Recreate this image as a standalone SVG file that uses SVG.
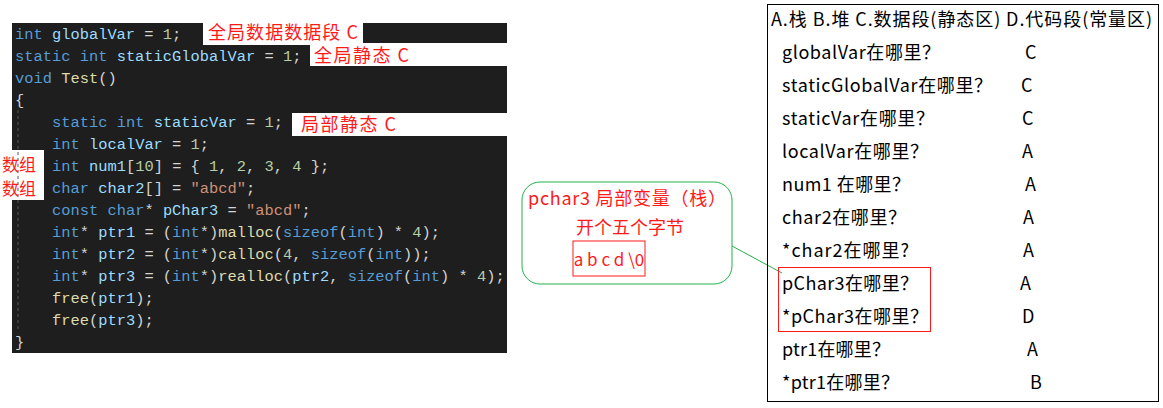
<svg xmlns="http://www.w3.org/2000/svg" width="1163" height="408" viewBox="0 0 1163 408">
<style>
.code{font-family:"Liberation Mono",monospace;font-size:15.4px;fill:#d4d4d4;white-space:pre}
.k{fill:#569cd6}.v{fill:#9cdcfe}.n{fill:#b5cea8}.s{fill:#ce9178}.f{fill:#dcdcaa}
.red{font-family:"Noto Sans CJK SC",sans-serif;font-size:18px;fill:#ff1a1a}
.t{font-family:"Noto Sans CJK SC",sans-serif;font-size:18px;fill:#000}
</style>
<rect width="1163" height="408" fill="#fff"/>
<g id="code">
<rect x="12" y="23" width="495" height="330" fill="#1e1e1e"/>
<rect x="203" y="21" width="160" height="24" fill="#fff"/>
<rect x="310" y="43" width="200" height="23" fill="#fff"/>
<rect x="292" y="113" width="216" height="23" fill="#fff"/>
<rect x="0" y="150" width="44" height="50" fill="#fff"/>
<line x1="18" y1="110" x2="18" y2="330" stroke="#555" stroke-dasharray="3,3"/>
<text class="code" x="15" y="39"><tspan class="k">int</tspan> <tspan class="v">globalVar</tspan> = <tspan class="n">1</tspan>;</text>
<text class="code" x="15" y="61"><tspan class="k">static</tspan> <tspan class="k">int</tspan> <tspan class="v">staticGlobalVar</tspan> = <tspan class="n">1</tspan>;</text>
<text class="code" x="15" y="83"><tspan class="k">void</tspan> <tspan class="f">Test</tspan>()</text>
<text class="code" x="15" y="105">{</text>
<text class="code" x="52" y="127"><tspan class="k">static</tspan> <tspan class="k">int</tspan> <tspan class="v">staticVar</tspan> = <tspan class="n">1</tspan>;</text>
<text class="code" x="52" y="149"><tspan class="k">int</tspan> <tspan class="v">localVar</tspan> = <tspan class="n">1</tspan>;</text>
<text class="code" x="52" y="171"><tspan class="k">int</tspan> <tspan class="v">num1</tspan>[<tspan class="n">10</tspan>] = { <tspan class="n">1</tspan>, <tspan class="n">2</tspan>, <tspan class="n">3</tspan>, <tspan class="n">4</tspan> };</text>
<text class="code" x="52" y="193"><tspan class="k">char</tspan> <tspan class="v">char2</tspan>[] = <tspan class="s">"abcd"</tspan>;</text>
<text class="code" x="52" y="215"><tspan class="k">const</tspan> <tspan class="k">char</tspan>* <tspan class="v">pChar3</tspan> = <tspan class="s">"abcd"</tspan>;</text>
<text class="code" x="52" y="237"><tspan class="k">int</tspan>* <tspan class="v">ptr1</tspan> = (<tspan class="k">int</tspan>*)<tspan class="f">malloc</tspan>(<tspan class="k">sizeof</tspan>(<tspan class="k">int</tspan>) * <tspan class="n">4</tspan>);</text>
<text class="code" x="52" y="259"><tspan class="k">int</tspan>* <tspan class="v">ptr2</tspan> = (<tspan class="k">int</tspan>*)<tspan class="f">calloc</tspan>(<tspan class="n">4</tspan>, <tspan class="k">sizeof</tspan>(<tspan class="k">int</tspan>));</text>
<text class="code" x="52" y="281"><tspan class="k">int</tspan>* <tspan class="v">ptr3</tspan> = (<tspan class="k">int</tspan>*)<tspan class="f">realloc</tspan>(<tspan class="v">ptr2</tspan>, <tspan class="k">sizeof</tspan>(<tspan class="k">int</tspan>) * <tspan class="n">4</tspan>);</text>
<text class="code" x="52" y="303"><tspan class="f">free</tspan>(<tspan class="v">ptr1</tspan>);</text>
<text class="code" x="52" y="325"><tspan class="f">free</tspan>(<tspan class="v">ptr3</tspan>);</text>
<text class="code" x="15" y="347">}</text>
</g>
<g id="labels">
<text class="red" x="208" y="39" textLength="150">全局数据数据段 C</text>
<text class="red" x="314" y="62" textLength="95">全局静态 C</text>
<text class="red" x="301" y="131" textLength="95">局部静态 C</text>
<text class="red" x="2" y="171" style="font-size:17px">数组</text>
<text class="red" x="2" y="195" style="font-size:17px">数组</text>
</g>
<g id="connectors">
<line x1="732" y1="246" x2="782" y2="273" stroke="#22b14c" stroke-width="1"/>
</g>
<g id="callout">
<rect x="522" y="182" width="210" height="102" rx="18" fill="#fff" stroke="#22b14c"/>
<text class="red" x="627" y="205" text-anchor="middle" textLength="198">pchar3 局部变量（栈）</text>
<text class="red" x="630" y="234" text-anchor="middle">开个五个字节</text>
<rect x="573" y="241" width="72" height="35" fill="none" stroke="#ff1a1a"/>
<text class="red" x="609" y="266" text-anchor="middle" style="white-space:pre;font-size:17px">a b c d \0</text>
</g>
<g id="table">
<rect x="767.5" y="4.5" width="391" height="397" fill="none" stroke="#000"/>
<rect x="778.5" y="267.5" width="152" height="64" fill="none" stroke="#ff1a1a"/>
<text class="t" x="771" y="26" textLength="381">A.栈 B.堆 C.数据段(静态区) D.代码段(常量区)</text>
<text class="t" x="782" y="59" textLength="158">globalVar在哪里？</text><text class="t" x="1025" y="59">C</text>
<text class="t" x="782" y="92" textLength="210">staticGlobalVar在哪里？</text><text class="t" x="1021" y="92">C</text>
<text class="t" x="782" y="125" textLength="152">staticVar在哪里？</text><text class="t" x="1022" y="125">C</text>
<text class="t" x="782" y="158" textLength="146">localVar在哪里？</text><text class="t" x="1022" y="158">A</text>
<text class="t" x="782" y="191" textLength="128">num1 在哪里？</text><text class="t" x="1025" y="191">A</text>
<text class="t" x="782" y="224" textLength="124">char2在哪里？</text><text class="t" x="1023" y="224">A</text>
<text class="t" x="782" y="257" textLength="127">*char2在哪里?</text><text class="t" x="1023" y="257">A</text>
<text class="t" x="782" y="290" textLength="136">pChar3在哪里？</text><text class="t" x="1020" y="290">A</text>
<text class="t" x="782" y="323" textLength="146">*pChar3在哪里？</text><text class="t" x="1022" y="323">D</text>
<text class="t" x="782" y="356" textLength="108">ptr1在哪里？</text><text class="t" x="1027" y="356">A</text>
<text class="t" x="782" y="389" textLength="117">*ptr1在哪里？</text><text class="t" x="1030" y="389">B</text>
</g>
</svg>
